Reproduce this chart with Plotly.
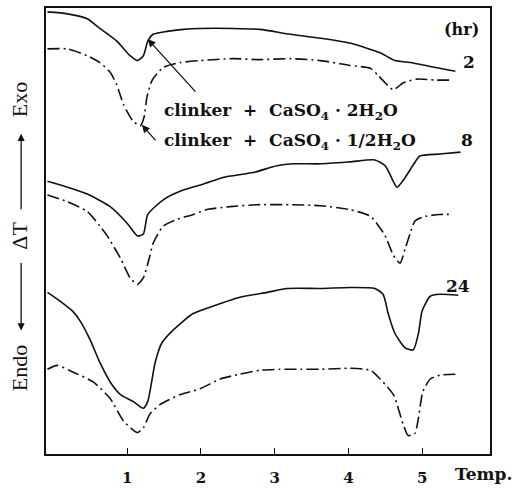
import plotly.graph_objects as go

# Temperature (axis units) and Delta T (arbitrary units)
T_2h_a = [-0.08, 0.19, 0.46, 0.63, 0.86, 1.04, 1.14, 1.22, 1.28, 1.35, 1.54, 1.76, 1.99, 2.44, 2.80,
          3.21, 3.62, 4.02, 4.43, 4.63, 4.84, 5.11, 5.45]
D_2h_a = [454, 452, 447, 437, 424, 409, 404, 409, 424, 431, 434, 436, 437, 437, 436,
          431, 427, 422, 412, 404, 402, 398, 393]

T_2h_b = [-0.08, 0.19, 0.46, 0.63, 0.77, 0.86, 0.95, 1.08, 1.18, 1.23, 1.27, 1.34, 1.49, 1.72, 1.99,
          2.44, 2.80, 3.21, 3.62, 4.02, 4.30, 4.40, 4.50, 4.61, 4.74, 4.93, 5.18, 5.42]
D_2h_b = [416, 416, 409, 402, 392, 379, 359, 342, 337, 346, 367, 384, 397, 402, 404,
          406, 405, 406, 404, 399, 396, 389, 381, 374, 381, 385, 384, 384]

T_8h_a = [-0.08, 0.19, 0.46, 0.77, 1.00, 1.14, 1.22, 1.28, 1.49, 1.76, 2.03, 2.30, 2.71, 3.03, 3.25,
          3.62, 4.02, 4.36, 4.50, 4.57, 4.66, 4.77, 4.88, 4.97, 5.24, 5.52]
D_8h_a = [280, 274, 267, 254, 237, 224, 226, 246, 261, 271, 277, 284, 289, 296, 298,
          298, 300, 302, 296, 286, 274, 284, 297, 306, 308, 310]

T_8h_b = [-0.08, 0.19, 0.46, 0.63, 0.73, 0.91, 1.04, 1.14, 1.22, 1.31, 1.35, 1.49, 1.68, 1.90, 2.08,
          2.40, 2.76, 3.21, 3.62, 4.02, 4.30, 4.43, 4.50, 4.61, 4.70, 4.77, 4.84, 4.90, 5.04, 5.24, 5.42]
D_8h_b = [266, 259, 249, 234, 224, 201, 181, 174, 181, 204, 216, 234, 241, 246, 251,
          254, 256, 256, 255, 251, 244, 232, 224, 204, 196, 211, 227, 239, 244, 246, 246]

T_24h_a = [-0.08, 0.09, 0.27, 0.36, 0.50, 0.63, 0.77, 0.91, 1.08, 1.22, 1.28, 1.38, 1.47, 1.62, 1.89,
           2.17, 2.53, 2.90, 3.17, 3.62, 4.02, 4.36, 4.47, 4.54, 4.63, 4.77, 4.88, 4.95,
           5.00, 5.11, 5.24, 5.49]
D_24h_a = [166, 157, 146, 137, 117, 94, 74, 61, 54, 47, 54, 94, 114, 127, 144,
           152, 161, 166, 170, 170, 171, 170, 164, 144, 124, 109, 107, 124,
           147, 162, 164, 163]

T_24h_b = [-0.08, 0.05, 0.27, 0.54, 0.77, 0.95, 1.14, 1.22, 1.31, 1.45, 1.72, 1.99, 2.26, 2.53, 2.80,
           3.07, 3.35, 3.62, 4.02, 4.30, 4.43, 4.61, 4.74, 4.81, 4.90, 4.95, 5.01, 5.11, 5.24, 5.49]
D_24h_b = [87, 91, 84, 74, 57, 34, 22, 27, 41, 51, 61, 67, 77, 82, 86,
           87, 87, 87, 88, 86, 77, 61, 31, 19, 21, 37, 64, 77, 81, 82]

x_ticks = [1, 2, 3, 4, 5]
hours = ["2", "8", "24"]

SERIF_B = "DejaVu Serif"
SERIF_R = "Liberation Serif"
INK = "#111111"
DASHDOT = "12px,4px,2px,4px"

fig = go.Figure()
series = [
    (T_2h_a, D_2h_a, "solid"), (T_2h_b, D_2h_b, DASHDOT),
    (T_8h_a, D_8h_a, "solid"), (T_8h_b, D_8h_b, DASHDOT),
    (T_24h_a, D_24h_a, "solid"), (T_24h_b, D_24h_b, DASHDOT),
]
for t, d, dash in series:
    fig.add_trace(go.Scatter(x=t, y=d, mode="lines",
                             line=dict(color=INK, width=1.6, dash=dash, shape="spline", smoothing=0.6),
                             showlegend=False, hoverinfo="skip"))

ann = []
lab_font = dict(family=SERIF_B, size=17, color=INK, weight="bold")
ann.append(dict(x=5.54, y=436, xref="x", yref="y", text="(hr)", showarrow=False,
                font=dict(family=SERIF_B, size=16, color=INK, weight="bold")))
for h, (tx, ty) in zip(hours, [(5.64, 403), (5.61, 322), (5.49, 173)]):
    ann.append(dict(x=tx, y=ty, xref="x", yref="y", text=h, showarrow=False, font=lab_font))
ann.append(dict(x=1.47, y=352, xref="x", yref="y", xanchor="left", yanchor="middle",
                text="clinker  +  CaSO<sub>4</sub> · 2H<sub>2</sub>O", showarrow=False, font=lab_font))
ann.append(dict(x=1.47, y=321, xref="x", yref="y", xanchor="left", yanchor="middle",
                text="clinker  +  CaSO<sub>4</sub> · 1/2H<sub>2</sub>O", showarrow=False, font=lab_font))
# pointer arrows
ann.append(dict(x=1.28, y=426, xref="x", yref="y", text="", showarrow=True, ax=49, ay=54,
                arrowhead=2, arrowsize=1.2, arrowwidth=1.3, arrowcolor=INK))
ann.append(dict(x=1.20, y=338, xref="x", yref="y", text="", showarrow=True, ax=15, ay=17,
                arrowhead=2, arrowsize=1.2, arrowwidth=1.3, arrowcolor=INK))
# y-axis label pieces
ylab_font = dict(family=SERIF_R, size=22, color=INK)
for txt, py in [("Exo", 0.795), ("ΔT", 0.489), ("Endo", 0.192)]:
    ann.append(dict(x=-0.059, y=py, xref="paper", yref="paper", text=txt, textangle=-90,
                    xanchor="center", yanchor="middle", showarrow=False, font=ylab_font))
ann.append(dict(x=-0.056, y=0.718, xref="paper", yref="paper", text="", showarrow=True,
                ax=0, ay=77, arrowhead=2, arrowsize=1.1, arrowwidth=1.3, arrowcolor=INK))
ann.append(dict(x=-0.056, y=0.277, xref="paper", yref="paper", text="", showarrow=True,
                ax=0, ay=-69, arrowhead=2, arrowsize=1.1, arrowwidth=1.3, arrowcolor=INK))
ann.append(dict(x=0.986, y=-0.044, xref="paper", yref="paper", text="Temp.", showarrow=False,
                xanchor="center", yanchor="middle",
                font=dict(family=SERIF_B, size=17, color=INK, weight="bold")))

fig.update_layout(
    width=519, height=493,
    margin=dict(l=46, r=29, t=6, b=29),
    paper_bgcolor="white", plot_bgcolor="white",
    annotations=ann,
    xaxis=dict(range=[-0.10, 5.92], tickvals=x_ticks, ticktext=[str(v) for v in x_ticks],
               ticks="inside", ticklen=6, tickcolor=INK, tickwidth=1.3,
               showline=True, linecolor=INK, linewidth=1.6, mirror=True,
               showgrid=False, zeroline=False, ticklabelstandoff=9,
               tickfont=dict(family=SERIF_B, size=15, color=INK, weight="bold")),
    yaxis=dict(range=[0, 458], showticklabels=False, ticks="",
               showline=True, linecolor=INK, linewidth=1.6, mirror=True,
               showgrid=False, zeroline=False),
)

fig.write_html("out.html", config={"displayModeBar": False},
               post_script="document.body.style.margin='0px';")
